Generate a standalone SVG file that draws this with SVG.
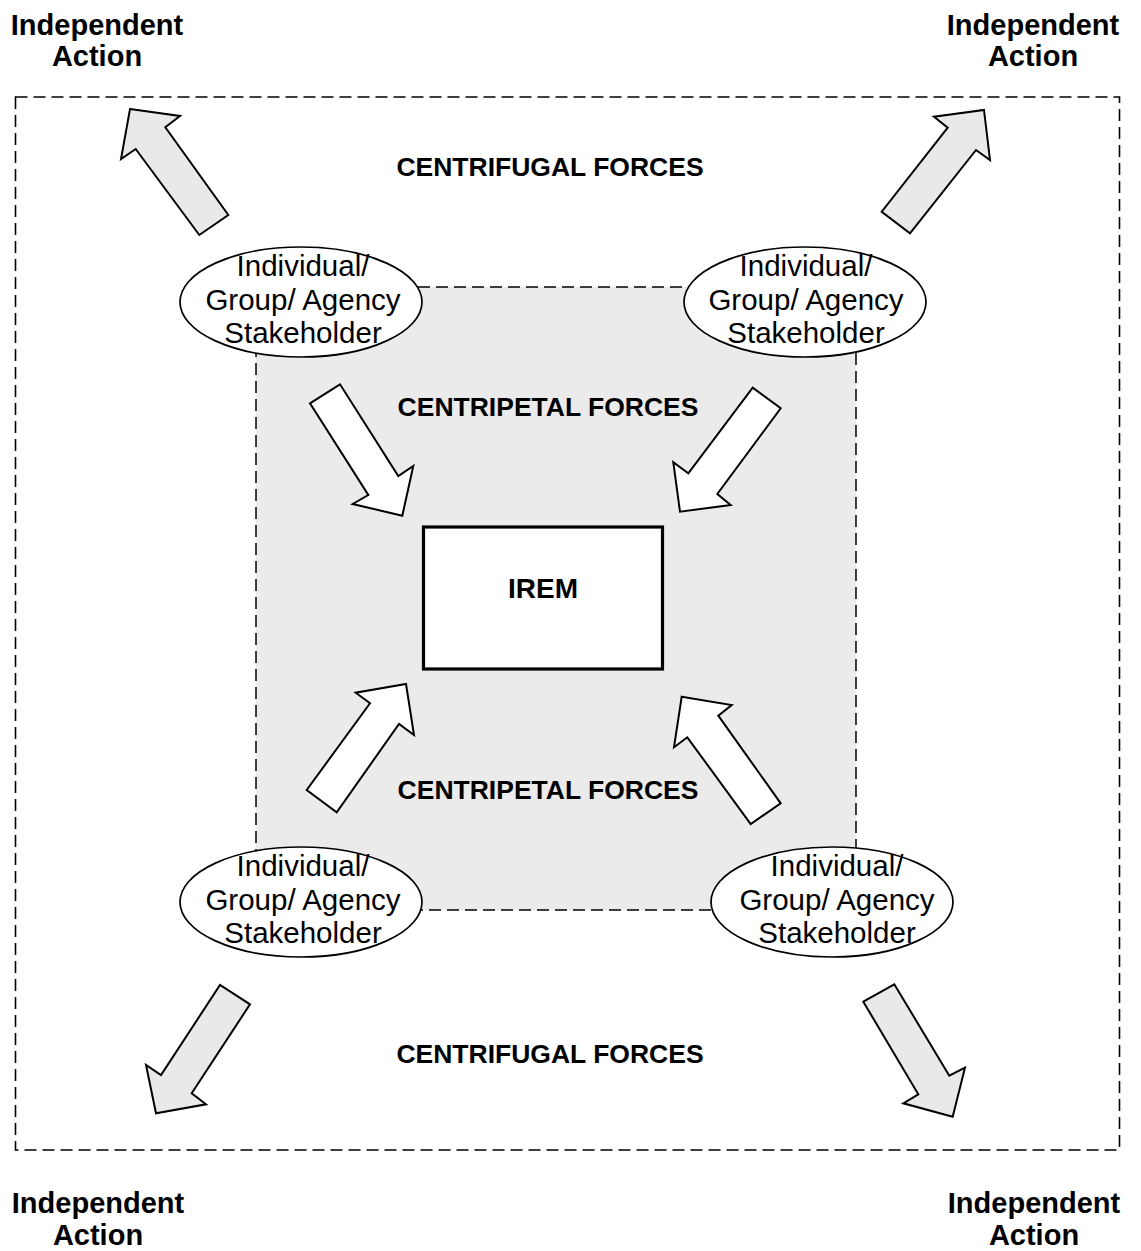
<svg xmlns="http://www.w3.org/2000/svg" width="1141" height="1251" viewBox="0 0 1141 1251">
  <style>
    .bg { fill: #ffffff; }
    .frame { fill: none; stroke: #000; stroke-width: 1.6; stroke-dasharray: 12 6; }
    .zone { fill: #ebebeb; stroke: #000; stroke-width: 1.5; stroke-dasharray: 12 6; }
    .node { fill: #ffffff; stroke: #000; stroke-width: 1.7; }
    .core { fill: #ffffff; stroke: #000; stroke-width: 3.2; }
    .out { fill: #e9e9e9; stroke: #000; stroke-width: 2; stroke-linejoin: miter; }
    .in { fill: #ffffff; stroke: #000; stroke-width: 2; stroke-linejoin: miter; }
    .lbl { font-family: "Liberation Sans", Arial, sans-serif; font-weight: bold; font-size: 29px; fill: #000; text-anchor: middle; }
    .core-lbl { font-family: "Liberation Sans", Arial, sans-serif; font-weight: bold; font-size: 28px; fill: #000; text-anchor: middle; }
    .force { font-family: "Liberation Sans", Arial, sans-serif; font-weight: bold; font-size: 26.5px; fill: #000; text-anchor: middle; }
    .stake { font-family: "Liberation Sans", Arial, sans-serif; font-size: 29.5px; fill: #000; text-anchor: middle; }
  </style>

  <rect class="bg" x="0" y="0" width="1141" height="1251"/>

  <!-- outer boundary and shaded inner zone -->
  <rect class="frame" x="15.5" y="97" width="1104" height="1053"/>
  <rect class="zone" x="256" y="287" width="600" height="623"/>

  <!-- corner captions -->
  <g id="action-tl">
    <text class="lbl" x="97" y="35">Independent</text>
    <text class="lbl" x="97" y="66">Action</text>
  </g>
  <g id="action-tr">
    <text class="lbl" x="1033" y="35">Independent</text>
    <text class="lbl" x="1033" y="66">Action</text>
  </g>
  <g id="action-bl">
    <text class="lbl" x="98" y="1213">Independent</text>
    <text class="lbl" x="98" y="1245">Action</text>
  </g>
  <g id="action-br">
    <text class="lbl" x="1034" y="1213">Independent</text>
    <text class="lbl" x="1034" y="1245">Action</text>
  </g>

  <!-- force labels -->
  <text class="force" x="550" y="176">CENTRIFUGAL FORCES</text>
  <text class="force" x="548" y="416">CENTRIPETAL FORCES</text>
  <text class="force" x="548" y="799">CENTRIPETAL FORCES</text>
  <text class="force" x="550" y="1063">CENTRIFUGAL FORCES</text>

  <!-- block arrows -->
  <g id="connectors">
    <!-- outward (centrifugal) -->
    <polygon class="out" points="130,109 180,116 165.3,127.3 228.3,215 199.3,235 135.7,149 121,159"/>
    <polygon class="out" points="984,110 990,160 976,150 910,233.3 881.7,211.7 947.7,127.7 934,116.7"/>
    <polygon class="out" points="156,1113.3 146,1065 161,1075 220,985 250,1004.3 191.7,1093.3 206,1104.3"/>
    <polygon class="out" points="952.7,1116.7 903.3,1103.3 918.3,1094.3 863.3,1001.7 894.3,984.3 949.3,1075.7 965,1067.7"/>
    <!-- inward (centripetal) -->
    <polygon class="in" points="402.3,515.7 352.7,504 368.3,495 310,403.3 340,384.3 398.3,476 413.3,466"/>
    <polygon class="in" points="680,511.7 673.3,462.3 688.3,473.3 752.7,387.7 780.7,408.3 717.3,494 730.7,505"/>
    <polygon class="in" points="406,684 414,735 399,724 336.7,812.3 306.7,790 370,703.3 355.7,692.7"/>
    <polygon class="in" points="681.7,696.7 731.7,705 718.3,715.7 780.7,803.3 750.7,824 687.3,737.3 674,747.3"/>
  </g>

  <!-- central entity -->
  <g id="irem">
    <rect class="core" x="423.5" y="527" width="239" height="142"/>
    <text class="core-lbl" x="543" y="598">IREM</text>
  </g>

  <!-- stakeholder nodes -->
  <g id="stakeholder-tl">
    <ellipse class="node" cx="301" cy="302" rx="121" ry="55"/>
    <text class="stake" x="303" y="276">Individual/</text>
    <text class="stake" x="303" y="310">Group/ Agency</text>
    <text class="stake" x="303" y="343">Stakeholder</text>
  </g>
  <g id="stakeholder-tr">
    <ellipse class="node" cx="805" cy="302" rx="121" ry="55"/>
    <text class="stake" x="806" y="276">Individual/</text>
    <text class="stake" x="806" y="310">Group/ Agency</text>
    <text class="stake" x="806" y="343">Stakeholder</text>
  </g>
  <g id="stakeholder-bl">
    <ellipse class="node" cx="301" cy="902" rx="121" ry="55"/>
    <text class="stake" x="303" y="876">Individual/</text>
    <text class="stake" x="303" y="910">Group/ Agency</text>
    <text class="stake" x="303" y="943">Stakeholder</text>
  </g>
  <g id="stakeholder-br">
    <ellipse class="node" cx="832" cy="902" rx="121" ry="55"/>
    <text class="stake" x="837" y="876">Individual/</text>
    <text class="stake" x="837" y="910">Group/ Agency</text>
    <text class="stake" x="837" y="943">Stakeholder</text>
  </g>
</svg>
